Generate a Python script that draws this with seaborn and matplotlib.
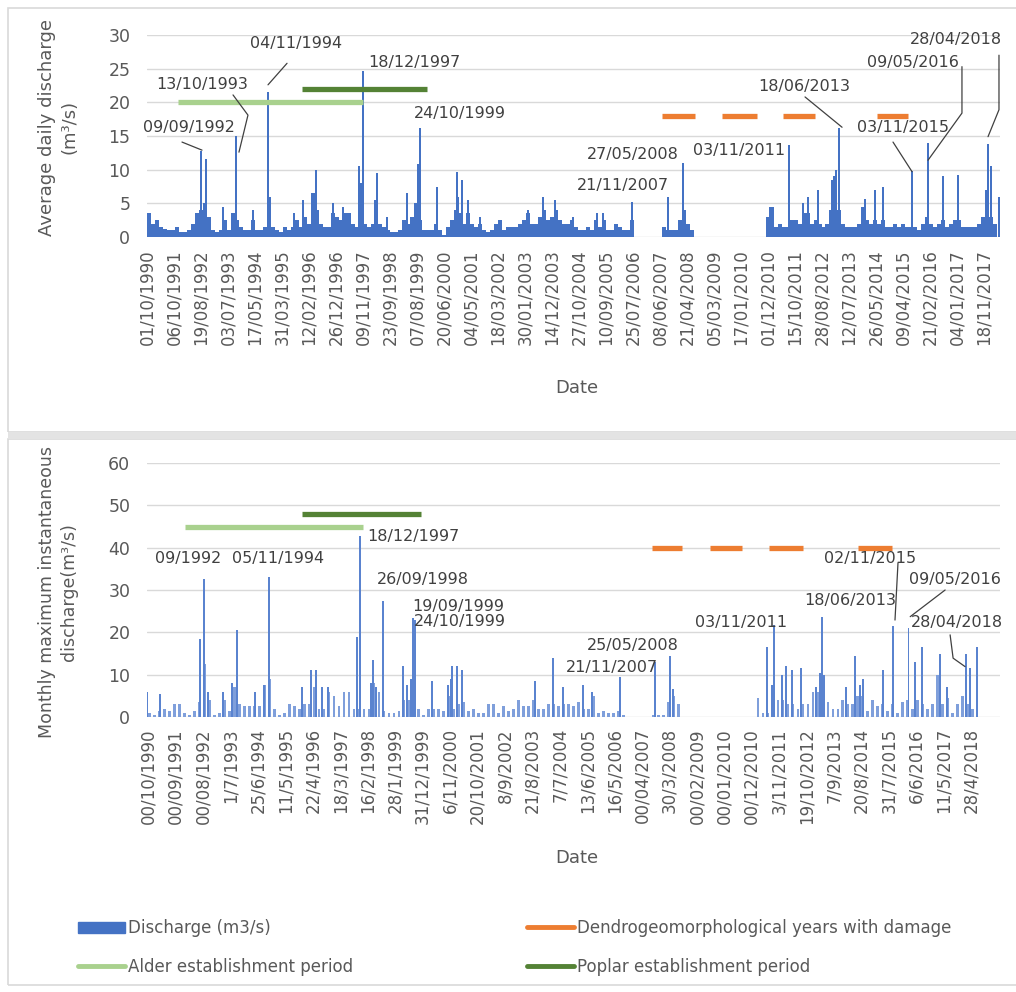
import matplotlib.pyplot as plt
import numpy as np
import pandas as pd
import seaborn as sns
from matplotlib.lines import Line2D
from matplotlib.patches import Patch, Rectangle

# ---------------- top chart: average daily discharge, x = days since 01/10/1990
day_bin = 47
daily_base = [
    3.5, 2, 2.5, 1.5, 1.2, 1, 1, 1.5, 0.8, 0.8,
    1, 2, 3.5, 4, 5, 3, 1, 0.8, 1, 2.5,
    1, 3.5, 2.5, 1.5, 1, 1, 2.5, 1, 1, 1.5,
    5, 1.5, 1, 0.8, 1.5, 1, 1.5, 2.5, 1.5, 3,
    2, 6.5, 4, 2, 1.5, 1.5, 3.5, 3, 2.5, 3.5,
    3.5, 2, 1.5, 8, 2, 1.5, 2, 4, 2, 1.5,
    1, 0.8, 0.8, 1, 2.5, 2, 3, 5, 2.5, 1,
    1, 1, 2, 1, 0.3, 1.5, 2.5, 4, 3.5, 2,
    3.5, 2, 1.5, 2, 1, 0.8, 1, 2, 2.5, 1,
    1.5, 1.5, 1.5, 2, 2.5, 3.5, 2, 2, 3, 4,
    2.5, 3, 4, 2.5, 2, 2, 2.5, 1.5, 1, 1,
    1.5, 1, 2.5, 1.5, 2.5, 1, 1, 2, 1.5, 1,
    1, 2.5, np.nan, np.nan, np.nan, np.nan, np.nan, np.nan, np.nan, 1.5,
    1, 1, 1, 2.5, 4, 2, 1, np.nan, np.nan, np.nan,
    np.nan, np.nan, np.nan, np.nan, np.nan, np.nan, np.nan, np.nan, np.nan, np.nan,
    np.nan, np.nan, np.nan, np.nan, np.nan, 3, 4.5, 1.5, 2, 1.5,
    1.5, 2.5, 2.5, 2, 3.5, 3.5, 2, 2.5, 2, 1.5,
    2, 4, 9, 4, 2, 1.5, 1.5, 1.5, 2, 4.5,
    2.5, 2, 2.5, 2, 2.5, 1.5, 1.5, 2, 1.5, 2,
    1.5, 1.5, 1.5, 1, 2, 3, 2, 1.5, 2, 2.5,
    1.5, 2, 2.5, 2.5, 1.5, 1.5, 1.5, 1.5, 2, 3,
    7, 3, 2,
]
daily_peak_day = [636, 695, 899, 1045, 1252, 1425, 1448, 1735, 1841, 1990,
                  2187, 2312, 2500, 2540, 2685, 2712, 2823, 3058, 3188, 3215,
                  3412, 3647, 3666, 3706, 3784, 3921, 4490, 4667, 4805, 5020,
                  5296, 5373, 5708, 6139, 6316, 7336, 7564, 7729, 7788, 7905,
                  8063, 8114, 8153, 8455, 8573, 8671, 9005, 9201, 9377, 9554,
                  9907, 9936, 10033]
daily_peak_val = [12.7, 11.6, 4.5, 15, 4, 21.5, 6, 3.5, 5.5, 10,
                  5, 4.5, 10.5, 24.7, 5.5, 9.5, 3, 6.5, 10.8, 16.2,
                  7.5, 9.7, 6, 8.5, 5.5, 3, 4, 6, 5.5, 3,
                  3.5, 3.5, 5.2, 6, 11, 4.5, 13.7, 5, 6, 7,
                  8.5, 10, 16.2, 5.7, 7, 7.5, 9.8, 14, 9, 9.2,
                  13.8, 10.5, 6]
daily_tick_labels = ["01/10/1990", "06/10/1991", "19/08/1992", "03/07/1993", "17/05/1994",
                     "31/03/1995", "12/02/1996", "26/12/1996", "09/11/1997", "23/09/1998",
                     "07/08/1999", "20/06/2000", "04/05/2001", "18/03/2002", "30/01/2003",
                     "14/12/2003", "27/10/2004", "10/09/2005", "25/07/2006", "08/06/2007",
                     "21/04/2008", "05/03/2009", "17/01/2010", "01/12/2010", "15/10/2011",
                     "28/08/2012", "12/07/2013", "26/05/2014", "09/04/2015", "21/02/2016",
                     "04/01/2017", "18/11/2017"]
daily_alder = [365, 2544]
daily_poplar = [1822, 3294]
daily_damage = [(6065, 6453), (6771, 7183), (7490, 7866), (8596, 8961)]
daily_labels = [("09/09/1992", 495, 16.2), ("13/10/1993", 654, 22.6), ("04/11/1994", 1755, 28.8),
                ("18/12/1997", 3144, 25.9), ("24/10/1999", 3686, 18.4), ("21/11/2007", 5599, 7.7),
                ("27/05/2008", 5717, 12.3), ("03/11/2011", 6971, 12.9), ("18/06/2013", 7737, 22.3),
                ("09/05/2016", 9015, 25.9), ("03/11/2015", 8903, 16.3), ("28/04/2018", 9527, 29.4)]
daily_leaders = [([412, 648], [14.1, 12.9]), ([1013, 1189, 1083], [21.1, 18.1, 12.6]),
                 ([1649, 1425], [25.8, 22.6]), ([7749, 8185], [20.8, 16.3]),
                 ([9597, 9597, 9197], [25.3, 18.4, 11.4]), ([8785, 9009], [14.1, 9.7]),
                 ([10033, 10033, 9904], [27, 18.9, 14.9])]

# ---------------- bottom chart: monthly maximum instantaneous discharge, x = months since 10/1990
month_bin = 2
monthly_base = [
    1, 0.5, 1.5, 2, 1.5, 3, 3, 1, 0.5, 1.5,
    3.5, 12.5, 4, 0.5, 1, 4, 1.5, 7, 3, 2.5,
    2.5, 2.5, 2.5, 7.5, 9, 2, 0.5, 1, 3, 2.5,
    2, 3, 3, 7, 2, 2, 6, 5, 2.5, 6,
    6, 2, 2, 2, 2, 8, 6, 1.5, 1, 1,
    1.5, 4, 4, 9, 2, 0.5, 2, 2, 2, 1.5,
    5, 2, 3, 3.5, 1.5, 2, 1, 1, 3, 3,
    1, 2.5, 1.5, 2, 4, 2.5, 2.5, 4, 2, 2,
    3, 3, 2.5, 3, 3, 2.5, 3.5, 2, 2, 5,
    1, 1.5, 1, 1, 1.5, 0.5, np.nan, np.nan, np.nan, np.nan,
    np.nan, 0.5, 0.5, 0.5, 3.5, 5, 3, np.nan, np.nan, np.nan,
    np.nan, np.nan, np.nan, np.nan, np.nan, np.nan, np.nan, np.nan, np.nan, np.nan,
    np.nan, np.nan, 4.5, 1, 1, 1, 4, 4, 3, 3,
    2, 3, 3, 6, 6, 6, 3.5, 2, 2, 4,
    3, 3, 5, 5, 1.5, 4, 2.5, 3, 1.5, 3,
    1, 3.5, 4, 2, 4, 3, 2, 3, 10, 3,
    4.5, 1, 3, 5, 3, 2,
]
monthly_peak_month = [0, 5.2, 21.3, 23, 24.6, 30.6, 34, 36, 43.3, 46.9,
                      48.9, 62, 65.6, 67.6, 70, 72.7, 84.3, 85.4, 89.8, 90.7,
                      91.8, 94.5, 102.8, 104.1, 105.7, 106.8, 107.5, 114.4, 120.8, 121.8,
                      122.4, 124.2, 126.2, 155.6, 162.9, 166.9, 174.9, 178.3, 189.7, 203.7,
                      209.7, 210.8, 248.5, 250.5, 251.4, 254.5, 256.2, 258.5, 262.1, 268.2,
                      269.8, 270.5, 271.4, 280.1, 283.9, 285.9, 287.2, 295, 299, 305.3,
                      307.9, 310.6, 318, 320.6, 328.4, 330, 332.7]
monthly_peak_val = [6, 5.5, 18.5, 32.5, 6, 6, 8, 20.5, 6, 7.5,
                    33, 7, 11, 11, 7, 7, 19, 42.7, 8, 13.5,
                    7, 27.3, 12, 7.5, 9, 23.5, 23, 8.5, 7.5, 9,
                    12, 12, 11, 8.5, 14, 7, 7.5, 6, 9.5, 13,
                    14.3, 6.5, 16.5, 7.5, 21.7, 10, 12, 11, 11.5, 7,
                    10.5, 23.7, 10, 7, 14.5, 7.5, 9, 11, 21.4, 21,
                    13, 16.5, 15, 7, 15, 11.5, 16.5]
monthly_tick_labels = ["00/10/1990", "00/09/1991", "00/08/1992", "1/7/1993", "25/6/1994",
                       "11/5/1995", "22/4/1996", "18/3/1997", "16/2/1998", "28/1/1999",
                       "31/12/1999", "6/11/2000", "20/10/2001", "8/9/2002", "21/8/2003",
                       "7/7/2004", "13/6/2005", "16/5/2006", "00/04/2007", "30/3/2008",
                       "00/02/2009", "00/01/2010", "00/12/2010", "3/11/2011", "19/10/2012",
                       "7/9/2013", "20/8/2014", "31/7/2015", "6/6/2016", "11/5/2017",
                       "28/4/2018"]
monthly_alder = [15.2, 86.5]
monthly_poplar = [62, 110]
monthly_damage = [(202.4, 214.4), (225.7, 238.4), (249.5, 263.2), (285.2, 298.6)]
monthly_labels = [("09/1992", 16.6, 37.5), ("05/11/1994", 52.5, 37.5), ("18/12/1997", 107, 42.6),
                  ("26/09/1998", 110.7, 32.4), ("19/09/1999", 124.7, 26.1), ("24/10/1999", 125.5, 22.5),
                  ("25/05/2008", 194.8, 17), ("21/11/2007", 186.6, 11.8), ("03/11/2011", 238.2, 22.3),
                  ("18/06/2013", 281.9, 27.5), ("02/11/2015", 289.9, 37.5), ("09/05/2016", 324, 32.4),
                  ("28/04/2018", 324.6, 22.3)]
monthly_leaders = [([301.1, 299.9], [36.4, 22.9]), ([320, 306], [30, 23.7]),
                   ([322, 323.2, 328], [19.4, 13.9, 11.9])]

BLUE = "#4472C4"
LIGHT_BLUE = "#7F9FDB"
ALDER = "#A9D18E"
POPLAR = "#548235"
ORANGE = "#ED7D31"
GRID = "#D9D9D9"
TXT = "#404040"
TICK = "#595959"

sns.set_theme(style="white")
plt.rcParams["font.family"] = ["DejaVu Sans"]

W, H = 1016, 992
fig = plt.figure(figsize=(W / 100, H / 100), dpi=100)


def box(left, top, right, bottom):
    return [left / W, 1 - bottom / H, (right - left) / W, (bottom - top) / H]


def style_axis(ax, ymax, ystep, xmax, tick_pos, tick_labels, xpad):
    ax.set_ylim(0, ymax)
    ax.set_xlim(0, xmax)
    ax.set_yticks(np.arange(0, ymax + 1, ystep))
    ax.set_xticks(tick_pos)
    ax.set_xticklabels(tick_labels, rotation=90)
    ax.tick_params(axis="y", length=0, labelsize=12.5, labelcolor=TICK, pad=12)
    ax.tick_params(axis="x", length=0, labelsize=12, labelcolor=TICK, pad=xpad)
    ax.yaxis.grid(True, color=GRID, lw=1)
    ax.xaxis.grid(False)
    ax.set_axisbelow(True)
    ax.set_xlabel("")
    ax.set_ylabel("")
    for s in ax.spines.values():
        s.set_visible(False)


# ---- top panel
ax1 = fig.add_axes(box(147, 35, 1000, 237))
top_df = pd.DataFrame({"day": (np.arange(len(daily_base)) + 0.5) * day_bin, "q": daily_base}).dropna()
sns.barplot(data=top_df, x="day", y="q", native_scale=True, width=1, color=BLUE,
            saturation=1, errorbar=None, linewidth=0, ax=ax1)
ax1.bar(daily_peak_day, daily_peak_val, width=22, color=BLUE, linewidth=0)
ax1.plot(daily_alder, [20, 20], color=ALDER, lw=3.8, solid_capstyle="butt")
ax1.plot(daily_poplar, [22, 22], color=POPLAR, lw=3.8, solid_capstyle="butt")
for s, e in daily_damage:
    ax1.plot([s, e], [18, 18], color=ORANGE, lw=3.8, solid_capstyle="butt")
for txt, x, y in daily_labels:
    ax1.text(x, y, txt, ha="center", va="center", fontsize=11.5, color=TXT, clip_on=False)
for xs, ys in daily_leaders:
    ax1.plot(xs, ys, color=TXT, lw=0.9, clip_on=False)
style_axis(ax1, 30, 5, 10045, np.arange(len(daily_tick_labels)) * 318, daily_tick_labels, 9)

# ---- bottom panel
ax2 = fig.add_axes(box(147, 463, 1000, 717))
bot_df = pd.DataFrame({"month": (np.arange(len(monthly_base)) + 0.5) * month_bin,
                       "q": monthly_base}).dropna()
sns.barplot(data=bot_df, x="month", y="q", native_scale=True, width=0.55, color=LIGHT_BLUE,
            saturation=1, errorbar=None, linewidth=0, ax=ax2)
ax2.bar(monthly_peak_month, monthly_peak_val, width=0.75, color="#5A83CF", linewidth=0)
ax2.plot(monthly_alder, [45, 45], color=ALDER, lw=3.8, solid_capstyle="butt")
ax2.plot(monthly_poplar, [48, 48], color=POPLAR, lw=3.8, solid_capstyle="butt")
for s, e in monthly_damage:
    ax2.plot([s, e], [40, 40], color=ORANGE, lw=3.8, solid_capstyle="butt")
for txt, x, y in monthly_labels:
    ax2.text(x, y, txt, ha="center", va="center", fontsize=11.5, color=TXT, clip_on=False)
for xs, ys in monthly_leaders:
    ax2.plot(xs, ys, color=TXT, lw=0.9, clip_on=False)
style_axis(ax2, 60, 10, 342, np.arange(len(monthly_tick_labels)) * 11 + 0.5, monthly_tick_labels, 8)

# ---- axis titles
fig.text(58 / W, 1 - 127 / H, "Average daily discharge\n(m³/s)", rotation=90, ha="center",
         va="center", multialignment="center", fontsize=13, color=TICK, linespacing=1.35)
fig.text(58 / W, 1 - 592 / H, "Monthly maximum instantaneous\ndischarge(m³/s)", rotation=90,
         ha="center", va="center", multialignment="center", fontsize=12.5, color=TICK, linespacing=1.35)
fig.text(577 / W, 1 - 388 / H, "Date", ha="center", va="center", fontsize=13, color=TICK)
fig.text(577 / W, 1 - 858 / H, "Date", ha="center", va="center", fontsize=13, color=TICK)

# ---- chart frames
fig.add_artist(Rectangle((8 / W, 1 - 432 / H), 1.1, 424 / H, transform=fig.transFigure,
                         fill=False, edgecolor=GRID, lw=1.2))
fig.add_artist(Rectangle((8 / W, 1 - 985 / H), 1.1, 546 / H, transform=fig.transFigure,
                         fill=False, edgecolor=GRID, lw=1.2))
fig.add_artist(Rectangle((8 / W, 1 - 439 / H), 1.1, 7 / H, transform=fig.transFigure,
                         facecolor="#E3E3E3", edgecolor="none"))

# ---- legend
leg_kw = dict(loc="upper left", frameon=False, fontsize=12, handlelength=2.8,
              handletextpad=0.2, labelspacing=1.25, labelcolor=TICK, borderpad=0)
fig.legend(handles=[Patch(color=BLUE), Line2D([], [], color=ALDER, lw=3.5)],
           labels=["Discharge (m3/s)", "Alder establishment period"],
           bbox_to_anchor=(70 / W, 1 - 911 / H), **leg_kw)
fig.legend(handles=[Line2D([], [], color=ORANGE, lw=3.5), Line2D([], [], color=POPLAR, lw=3.5)],
           labels=["Dendrogeomorphological years with damage", "Poplar establishment period"],
           bbox_to_anchor=(519 / W, 1 - 911 / H), **leg_kw)

fig.savefig("out.png", dpi=100)
